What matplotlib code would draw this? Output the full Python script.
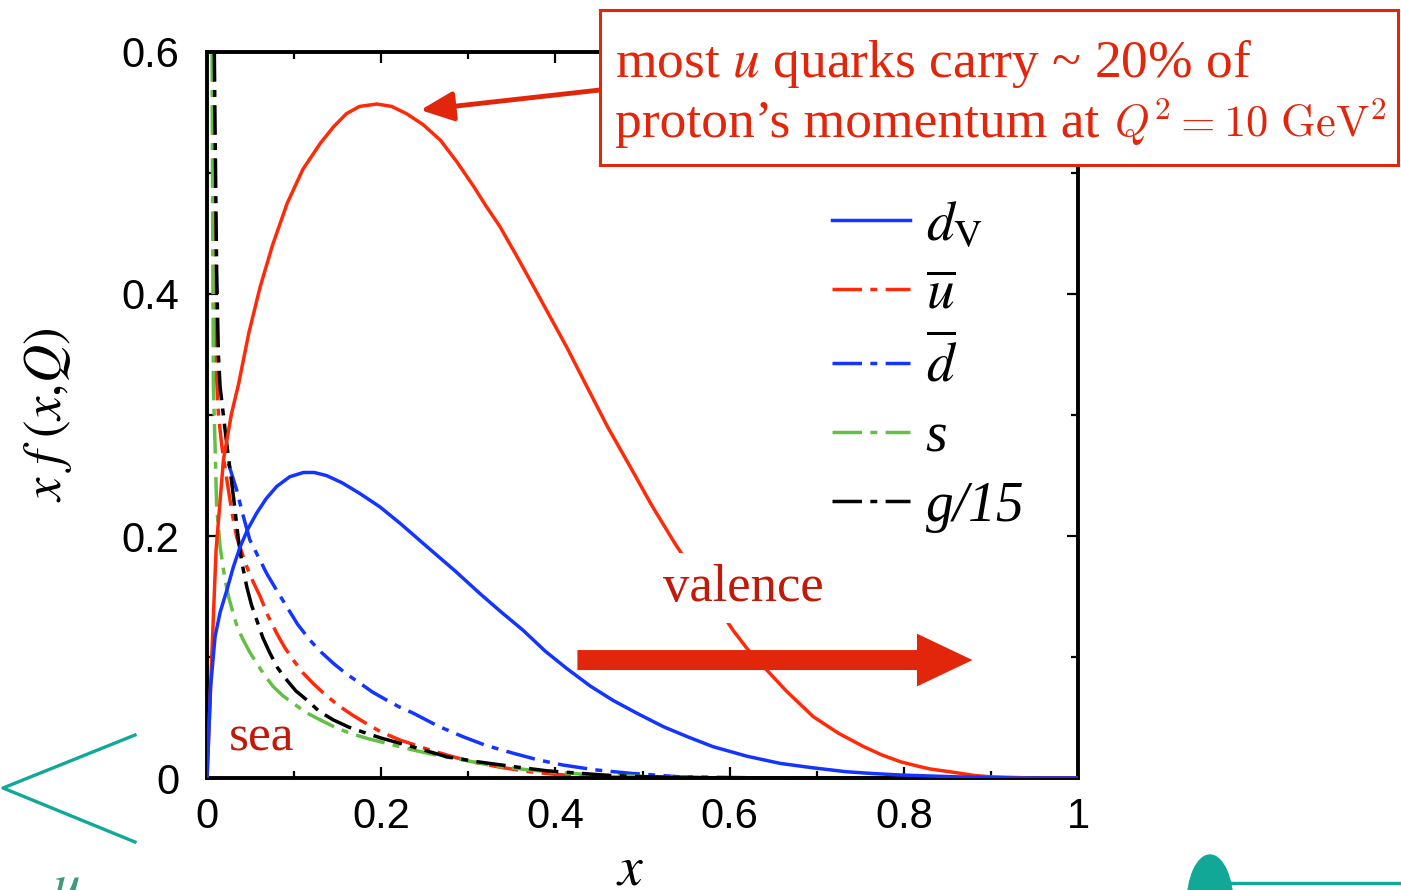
import matplotlib.pyplot as plt
from matplotlib.lines import Line2D
from matplotlib.patches import Ellipse, Rectangle
from matplotlib.ticker import MultipleLocator

# x f(x,Q) at Q^2 = 10 GeV^2
x_uv = [0.0, 0.0054, 0.0103, 0.0188, 0.028, 0.036, 0.048, 0.061, 0.075, 0.092, 0.110,
        0.130, 0.145, 0.160, 0.175, 0.195, 0.212, 0.229, 0.248, 0.268, 0.287, 0.306,
        0.320, 0.336, 0.355, 0.375, 0.394, 0.413, 0.435, 0.460, 0.486, 0.510, 0.537,
        0.604, 0.620, 0.639, 0.665, 0.696, 0.725, 0.754, 0.775, 0.796, 0.815, 0.830,
        0.865, 0.880, 0.899, 0.95, 1.0]
y_uv = [0.0, 0.100, 0.188, 0.263, 0.301, 0.325, 0.368, 0.406, 0.440, 0.475, 0.503,
        0.5245, 0.538, 0.549, 0.555, 0.557, 0.555, 0.549, 0.540, 0.527, 0.509, 0.489,
        0.473, 0.456, 0.432, 0.406, 0.381, 0.356, 0.325, 0.290, 0.257, 0.226, 0.194,
        0.122, 0.107, 0.092, 0.072, 0.0507, 0.037, 0.0259, 0.019, 0.0135, 0.010, 0.0075,
        0.0039, 0.0022, 0.001, 0.0, 0.0]

x_dv = [0.0, 0.004, 0.0092, 0.015, 0.0226, 0.030, 0.0379, 0.047, 0.057, 0.068, 0.080,
        0.095, 0.1106, 0.123, 0.137, 0.155, 0.1757, 0.1986, 0.2216, 0.256, 0.285, 0.313,
        0.338, 0.363, 0.388, 0.413, 0.440, 0.4665, 0.495, 0.524, 0.552, 0.581, 0.620,
        0.658, 0.695, 0.734, 0.765, 0.796, 0.86, 0.93, 1.0]
y_dv = [0.0, 0.075, 0.117, 0.137, 0.155, 0.174, 0.191, 0.206, 0.219, 0.231, 0.241,
        0.249, 0.2525, 0.2525, 0.250, 0.244, 0.235, 0.224, 0.2105, 0.189, 0.171, 0.1526,
        0.137, 0.122, 0.105, 0.0905, 0.076, 0.064, 0.053, 0.0424, 0.034, 0.0259, 0.018,
        0.0121, 0.0085, 0.0052, 0.0037, 0.0025, 0.001, 0.0, 0.0]

x_ubar = [0.0055, 0.0075, 0.0095, 0.011, 0.013, 0.017, 0.0245, 0.029, 0.034, 0.0456, 0.053,
          0.061, 0.070, 0.080, 0.089, 0.099, 0.110, 0.122, 0.137, 0.1527, 0.167, 0.183,
          0.200, 0.2216, 0.240, 0.256, 0.285, 0.313, 0.340, 0.371, 0.400, 0.447, 0.55, 0.7, 1.0]
y_ubar = [0.70, 0.55, 0.40, 0.33, 0.301, 0.274, 0.238, 0.218, 0.199, 0.1746, 0.162,
          0.150, 0.134, 0.1196, 0.108, 0.0975, 0.087, 0.078, 0.068, 0.059, 0.052, 0.045,
          0.038, 0.0314, 0.027, 0.0231, 0.017, 0.0121, 0.0085, 0.0052, 0.003, 0.001, 0.0, 0.0, 0.0]

x_dbar = [0.0245, 0.034, 0.041, 0.049, 0.058, 0.0685, 0.080, 0.0915, 0.104, 0.118, 0.131,
          0.145, 0.160, 0.1757, 0.190, 0.206, 0.220, 0.237, 0.265, 0.294, 0.320, 0.352,
          0.380, 0.409, 0.445, 0.486, 0.543, 0.65, 1.0]
y_dbar = [0.260, 0.238, 0.218, 0.197, 0.184, 0.169, 0.155, 0.1416, 0.127, 0.114, 0.104,
          0.0948, 0.086, 0.0783, 0.071, 0.0645, 0.059, 0.0535, 0.043, 0.0341, 0.027, 0.0204,
          0.015, 0.0107, 0.0068, 0.0039, 0.001, 0.0, 0.0]

x_s = [0.0055, 0.0065, 0.0073, 0.0092, 0.011, 0.015, 0.0207, 0.025, 0.030, 0.035, 0.0417,
       0.049, 0.057, 0.066, 0.076, 0.087, 0.099, 0.114, 0.130, 0.147, 0.164, 0.185, 0.206,
       0.237, 0.265, 0.294, 0.330, 0.371, 0.410, 0.447, 0.514, 0.6, 1.0]
y_s = [0.65, 0.45, 0.323, 0.274, 0.224, 0.191, 0.1636, 0.149, 0.136, 0.124, 0.114,
       0.104, 0.0948, 0.085, 0.0755, 0.068, 0.0617, 0.054, 0.048, 0.042, 0.037, 0.0325, 0.0287,
       0.0231, 0.0187, 0.0149, 0.010, 0.0066, 0.0042, 0.0025, 0.001, 0.0, 0.0]

x_g = [0.007, 0.009, 0.011, 0.013, 0.015, 0.0207, 0.024, 0.028, 0.032, 0.036, 0.040,
       0.0456, 0.051, 0.057, 0.064, 0.0723, 0.081, 0.0915, 0.102, 0.1145, 0.129, 0.145,
       0.163, 0.183, 0.200, 0.2216, 0.245, 0.275, 0.310, 0.352, 0.390, 0.428, 0.465,
       0.505, 0.6, 1.0]
y_g = [0.70, 0.55, 0.42, 0.35, 0.323, 0.2876, 0.268, 0.246, 0.222, 0.197, 0.178,
       0.158, 0.143, 0.1306, 0.116, 0.103, 0.091, 0.081, 0.072, 0.0645, 0.055, 0.048,
       0.042, 0.037, 0.033, 0.0287, 0.024, 0.0176, 0.0135, 0.0094, 0.006, 0.0039, 0.002,
       0.001, 0.0, 0.0]

labels = [r'$d_{\mathrm{V}}$', r'$\overline{u}$', r'$\overline{d}$', 's', 'g/15']

RED = '#ff2a08'
BLUE = '#1434ff'
GREEN = '#62c044'
BOX_RED = '#e2260c'
TXT_RED = '#c21a0a'
TEAL = '#12a898'
SERIF = 'Liberation Serif'

plt.rcParams['font.family'] = 'Liberation Sans'
plt.rcParams['mathtext.fontset'] = 'stix'

W, H = 1401.0, 890.0
fig = plt.figure(figsize=(14.01, 8.9), dpi=100)
ax = fig.add_axes([0.1478, 0.1258, 0.6217, 0.8158])

lw = 2.5
dd = (8.5, 2.4, 2.0, 2.4)
ax.plot(x_uv, y_uv, color=RED, lw=lw, zorder=3)
ax.plot(x_dv, y_dv, color=BLUE, lw=lw, label=labels[0], zorder=3)
ax.plot(x_ubar, y_ubar, color=RED, lw=lw, dashes=dd, label=labels[1], zorder=2)
ax.plot(x_dbar, y_dbar, color=BLUE, lw=lw, dashes=dd, label=labels[2], zorder=2)
ax.plot(x_s, y_s, color=GREEN, lw=lw, dashes=dd, label=labels[3], zorder=2)
ax.plot(x_g, y_g, color='black', lw=lw, dashes=dd, label=labels[4], zorder=2)

ax.set_xlim(0, 1)
ax.set_ylim(0, 0.6)
ax.xaxis.set_major_locator(MultipleLocator(0.2))
ax.xaxis.set_minor_locator(MultipleLocator(0.1))
ax.yaxis.set_major_locator(MultipleLocator(0.2))
ax.yaxis.set_minor_locator(MultipleLocator(0.1))
ax.xaxis.set_major_formatter(plt.FuncFormatter(lambda v, p: '%g' % round(v, 1)))
ax.yaxis.set_major_formatter(plt.FuncFormatter(lambda v, p: '%g' % round(v, 1)))
ax.tick_params(which='both', direction='in', top=True, right=True, width=1.6)
ax.tick_params(which='major', length=8)
ax.tick_params(which='minor', length=5)
ax.tick_params(axis='x', labelsize=30, pad=14)
ax.tick_params(axis='y', labelsize=30, pad=20)
for sp in ax.spines.values():
    sp.set_linewidth(2.8)

ax.set_xlabel(r'$x$', fontsize=40)
ax.xaxis.set_label_coords(0.486, -0.092)
ax.set_ylabel(r'$x\ f\ (x{,}Q)$', fontsize=38, labelpad=34)

ax.legend(loc='upper left', bbox_to_anchor=(0.686, 0.835), frameon=False,
          prop={'family': SERIF, 'style': 'italic', 'size': 40},
          handlelength=1.4, handletextpad=0.28, labelspacing=0.31, borderpad=0)

ax.text(0.616, 0.157, 'valence', fontsize=38, color=TXT_RED, family=SERIF,
        ha='center', va='center', zorder=5,
        bbox=dict(boxstyle='square,pad=0.2', fc='white', ec='none'))
ax.text(0.063, 0.033, 'sea', fontsize=37, color=TXT_RED, family=SERIF,
        ha='center', va='center', zorder=5)
ax.annotate('', xy=(0.882, 0.0975), xytext=(0.422, 0.0975),
            arrowprops=dict(arrowstyle='simple,head_length=1.0,head_width=0.95,tail_width=0.36',
                            mutation_scale=40, color=BOX_RED, lw=0), zorder=6)

# callout box above the plot
ax.annotate('', xy=(0.245, 0.552), xycoords='data',
            xytext=(600 / W, 1 - 90 / H), textcoords='figure fraction', annotation_clip=False,
            arrowprops=dict(arrowstyle='-|>,head_length=1.0,head_width=0.45', mutation_scale=20,
                            color=BOX_RED, lw=3.5, shrinkA=0, shrinkB=0))
fig.add_artist(Rectangle((600 / W, 1 - 165 / H), 798 / W, 155 / H, transform=fig.transFigure,
                         fc='white', ec=BOX_RED, lw=2.2, zorder=2))
fig.text(615 / W, 1 - 77 / H, 'most $u$ quarks carry ~ 20% of', fontsize=38.5, color=BOX_RED,
         family=SERIF, ha='left', va='baseline', zorder=4)
fig.text(615 / W, 1 - 137 / H, 'proton\u2019s momentum at', fontsize=38.5, color=BOX_RED,
         family=SERIF, ha='left', va='baseline', zorder=4)
fig.text(1386 / W, 1 - 137 / H, r'$Q^2 = 10\ \mathrm{GeV}^2$', fontsize=32, color=BOX_RED,
         math_fontfamily='cm', ha='right', va='baseline', zorder=4)

# slide decorations around the figure
fig.add_artist(Line2D([135 / W, 3 / W, 135 / W], [1 - 735 / H, 1 - 788 / H, 1 - 842 / H],
                      color=TEAL, lw=2.4, transform=fig.transFigure))
fig.add_artist(Line2D([1228 / W, 1.0], [1 - 883 / H, 1 - 883 / H],
                      color=TEAL, lw=2.4, transform=fig.transFigure))
fig.add_artist(Ellipse((1210 / W, 1 - 905 / H), 46 / W, 100 / H, color=TEAL,
                       transform=fig.transFigure))
fig.text(66 / W, -24 / H, r'$u$', fontsize=40, color='#3d9a78', ha='center', va='bottom')

fig.savefig('out.png', dpi=100)
